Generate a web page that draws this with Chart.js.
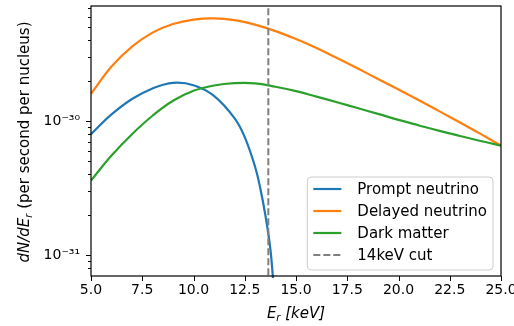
<!DOCTYPE html>
<html>
<head>
<meta charset="utf-8">
<script src="https://cdn.jsdelivr.net/npm/chart.js@4.4.0/dist/chart.umd.min.js"></script>
<style>
  html, body { margin: 0; padding: 0; background: #fff; }
  #wrap { width: 514px; height: 326px; }
</style>
</head>
<body>
<div id="wrap"><canvas id="chart" width="514" height="326"></canvas></div>
<script>
// recoil energy grid (keV) for the delayed neutrino and dark matter curves
const energyKeV = [5, 6, 7, 8, 9, 10, 11, 12, 13, 14, 15, 16, 17, 18, 19, 20, 21, 22, 23, 24, 25];
const delayedNeutrino = [1.595e-30, 2.55e-30, 3.59e-30, 4.56e-30, 5.28e-30, 5.70e-30, 5.82e-30, 5.65e-30, 5.23e-30, 4.68e-30,
                         4.08e-30, 3.50e-30, 2.95e-30, 2.47e-30, 2.06e-30, 1.72e-30, 1.43e-30, 1.18e-30, 9.76e-31, 8.02e-31, 6.56e-31];
const darkMatter = [3.60e-31, 5.53e-31, 7.98e-31, 1.095e-30, 1.415e-30, 1.68e-30, 1.84e-30, 1.915e-30, 1.91e-30, 1.80e-30,
                    1.67e-30, 1.52e-30, 1.38e-30, 1.25e-30, 1.13e-30, 1.02e-30, 9.27e-31, 8.44e-31, 7.74e-31, 7.10e-31, 6.56e-31];

// prompt neutrino falls off steeply, so it gets its own finer grid
const promptEnergyKeV = [5, 6, 7, 8, 9, 10, 11, 12, 12.5, 13, 13.25, 13.5, 13.75, 13.9];
const promptNeutrino = [7.98e-31, 1.12e-30, 1.46e-30, 1.75e-30, 1.925e-30, 1.85e-30, 1.54e-30, 1.05e-30,
                        7.58e-31, 4.58e-31, 3.20e-31, 2.01e-31, 1.11e-31, 6.1e-32];

// vertical cut line
const cutEnergy = 13.65;

// axis limits
const xMin = 5, xMax = 25, xStep = 2.5;
const yMin = 7.1e-32, yMax = 7.2e-30;

const seriesLabels = ['Prompt neutrino', 'Delayed neutrino', 'Dark matter', '14keV cut'];
const seriesColors = ['#1f77b4', '#ff7f0e', '#2ca02c', '#7f7f7f'];

const FONT = '"DejaVu Sans", "Liberation Sans", sans-serif';
const LINE_W = 2.2;

function toPoints(xs, ys) {
    return xs.map((v, i) => ({ x: v, y: ys[i] }));
}

function isDecade(v) {
    const l = Math.log10(v);
    return Math.abs(l - Math.round(l)) < 1e-6;
}

const supDigits = { '-': '\u207B', '0': '\u2070', '1': '\u00B9', '2': '\u00B2', '3': '\u00B3', '4': '\u2074',
                    '5': '\u2075', '6': '\u2076', '7': '\u2077', '8': '\u2078', '9': '\u2079' };
function powerLabel(v) {
    const e = String(Math.round(Math.log10(v)));
    return '10' + e.split('').map(c => supDigits[c]).join('');
}

// draw a row of text pieces (different fonts / offsets) centred on x
function drawPieces(ctx, pieces, cx, cy) {
    let total = 0;
    pieces.forEach(p => { ctx.font = p.font; p.w = ctx.measureText(p.text).width; total += p.w; });
    let x = cx - total / 2;
    pieces.forEach(p => {
        ctx.font = p.font;
        ctx.fillText(p.text, x, cy + (p.dy || 0));
        x += p.w;
    });
}

const decorations = {
    id: 'decorations',
    afterDatasetsDraw(chart) {
        const { ctx, chartArea: ca, scales } = chart;
        const xs = scales.x, ys = scales.y;
        ctx.save();

        // frame round the axes
        ctx.strokeStyle = '#000';
        ctx.lineWidth = 1.2;
        ctx.strokeRect(ca.left, ca.top, ca.right - ca.left, ca.bottom - ca.top);

        // outward tick marks
        ctx.lineWidth = 1;
        ctx.beginPath();
        xs.ticks.forEach(t => {
            const px = Math.round(xs.getPixelForValue(t.value)) + 0.5;
            ctx.moveTo(px, ca.bottom);
            ctx.lineTo(px, ca.bottom + 5);
        });
        ys.ticks.forEach(t => {
            const py = Math.round(ys.getPixelForValue(t.value)) + 0.5;
            ctx.moveTo(ca.left, py);
            ctx.lineTo(ca.left - (isDecade(t.value) ? 5 : 3), py);
        });
        ctx.stroke();

        // axis titles
        ctx.fillStyle = '#000';
        ctx.textBaseline = 'middle';
        drawPieces(ctx, [
            { text: 'E', font: 'italic 15px ' + FONT },
            { text: 'r', font: 'italic 10px ' + FONT, dy: 4 },
            { text: ' [keV]', font: 'italic 15px ' + FONT }
        ], (ca.left + ca.right) / 2, 314);

        ctx.save();
        ctx.translate(25, (ca.top + ca.bottom) / 2 + 1);
        ctx.rotate(-Math.PI / 2);
        drawPieces(ctx, [
            { text: 'dN/dE', font: 'italic 15px ' + FONT },
            { text: 'r', font: 'italic 10px ' + FONT, dy: 4 },
            { text: ' (per second per nucleus)', font: '15px ' + FONT }
        ], 0, 0);
        ctx.restore();

        // legend box, lower right
        const ds = chart.data.datasets;
        const rowH = 22;
        const legendFont = '15px ' + FONT;
        ctx.font = legendFont;
        const textW = Math.max(...ds.map(d => ctx.measureText(d.label).width));
        const boxW = 6 + 28 + 16 + textW + 6;
        const boxH = 12 + rowH * (ds.length - 1) + 15;
        const bx = ca.right - 8 - boxW;
        const by = ca.bottom - 6 - boxH;
        ctx.beginPath();
        ctx.roundRect(bx, by, boxW, boxH, 4);
        ctx.fillStyle = 'rgba(255,255,255,0.8)';
        ctx.fill();
        ctx.strokeStyle = '#cccccc';
        ctx.lineWidth = 1;
        ctx.stroke();

        ds.forEach((d, i) => {
            const ry = by + 12 + i * rowH;
            ctx.beginPath();
            ctx.setLineDash(d.borderDash || []);
            ctx.strokeStyle = d.borderColor;
            ctx.lineWidth = d.borderWidth;
            ctx.moveTo(bx + 6, ry);
            ctx.lineTo(bx + 34, ry);
            ctx.stroke();
            ctx.setLineDash([]);
            ctx.fillStyle = '#000';
            ctx.font = legendFont;
            ctx.textBaseline = 'middle';
            ctx.fillText(d.label, bx + 50, ry + 1);
        });

        ctx.restore();
    }
};

const curveStyle = {
    borderWidth: LINE_W,
    pointRadius: 0,
    fill: false,
    tension: 0.4
};

new Chart(document.getElementById('chart'), {
    type: 'line',
    data: {
        datasets: [
            Object.assign({
                label: seriesLabels[0],
                data: toPoints(promptEnergyKeV, promptNeutrino),
                borderColor: seriesColors[0],
                order: 4,
                clip: 2
            }, curveStyle),
            Object.assign({
                label: seriesLabels[1],
                data: toPoints(energyKeV, delayedNeutrino),
                borderColor: seriesColors[1],
                order: 3
            }, curveStyle),
            Object.assign({
                label: seriesLabels[2],
                data: toPoints(energyKeV, darkMatter),
                borderColor: seriesColors[2],
                order: 2
            }, curveStyle),
            {
                label: seriesLabels[3],
                data: [{ x: cutEnergy, y: yMin }, { x: cutEnergy, y: yMax }],
                borderColor: seriesColors[3],
                borderWidth: 2,
                borderDash: [7, 3],
                pointRadius: 0,
                fill: false,
                order: 1
            }
        ]
    },
    options: {
        responsive: false,
        animation: false,
        devicePixelRatio: 1,
        layout: { padding: { left: 0, right: 13, top: 6, bottom: 0 } },
        plugins: {
            legend: { display: false },
            tooltip: { enabled: false }
        },
        scales: {
            x: {
                type: 'linear',
                min: xMin,
                max: xMax,
                grid: { drawOnChartArea: false, drawTicks: false },
                border: { display: false },
                ticks: {
                    stepSize: xStep,
                    autoSkip: false,
                    maxRotation: 0,
                    padding: 6,
                    color: '#000',
                    font: { family: FONT, size: 14 },
                    callback: v => Number(v).toFixed(1)
                },
                afterFit: s => { s.height = 50; s.paddingLeft = 0; s.paddingRight = 0; }
            },
            y: {
                type: 'logarithmic',
                min: yMin,
                max: yMax,
                grid: { drawOnChartArea: false, drawTicks: false },
                border: { display: false },
                afterBuildTicks: s => {
                    const ticks = [];
                    for (let e = -32; e <= -30; e++) {
                        for (let k = 1; k <= 9; k++) {
                            const v = k * Math.pow(10, e);
                            if (v >= yMin && v <= yMax) ticks.push({ value: v });
                        }
                    }
                    s.ticks = ticks;
                },
                ticks: {
                    autoSkip: false,
                    padding: 11,
                    color: '#000',
                    font: { family: FONT, size: 14 },
                    callback: v => isDecade(v) ? powerLabel(v) : ''
                },
                afterFit: s => { s.width = 91; s.paddingTop = 0; s.paddingBottom = 0; }
            }
        }
    },
    plugins: [decorations]
});
</script>
</body>
</html>
